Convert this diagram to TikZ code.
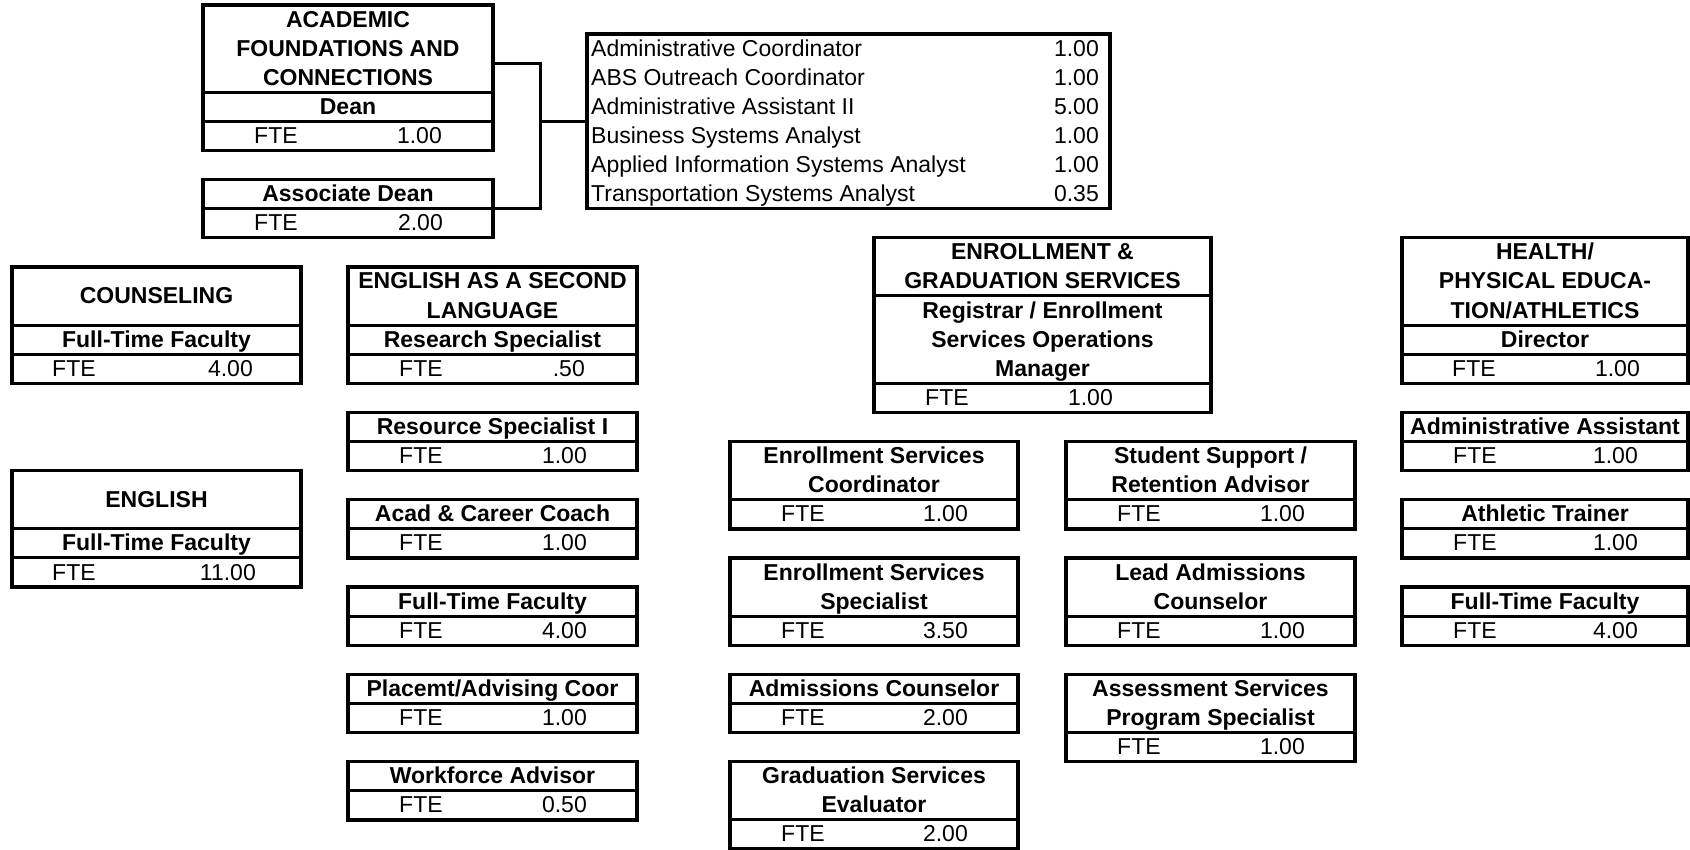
\documentclass[tikz,border=0pt]{standalone}
\usepackage{fontspec}
\setmainfont{Liberation Sans}
\tikzset{
  frame/.style={draw, line width=3.4pt, rectangle, inner sep=0pt, outer sep=0pt, anchor=north west},
  sepline/.style={line width=3pt},
  conn/.style={line width=3pt},
  bt/.style={font=\fontsize{23}{28}\selectfont\bfseries, inner sep=0pt, anchor=base},
  rt/.style={font=\fontsize{23}{28}\selectfont, inner sep=0pt},
}
% frame: name, left, right, top row, bottom row
\newcommand{\orgframe}[5]{%
  \pgfmathsetmacro\ofT{-(5+29.1*(#4))}%
  \pgfmathsetmacro\ofW{(#3)-(#2)}%
  \pgfmathsetmacro\ofH{29.1*((#5)-(#4))}%
  \node[frame, minimum width=\ofW pt, minimum height=\ofH pt] (#1) at (#2,\ofT) {};%
}
% separator: left, right, row line
\newcommand{\orgsep}[3]{%
  \pgfmathsetmacro\osY{-(5+29.1*(#3))}%
  \draw[sepline] (#1,\osY) -- (#2,\osY);%
}
% lines of text: name, centre x, first row, style, list
\newcommand{\orglines}[5]{%
  \foreach \olT [count=\olI from 0] in {#5} {%
    \pgfmathsetmacro\olY{-(5+29.1*((#3)+\olI+1))+7}%
    \node[#4] (#1-\olI) at (#2,\olY) {\olT};%
  }%
}
% FTE row: name, left, right, row, value, left offset, right offset
\newcommand{\orgfte}[7]{%
  \pgfmathsetmacro\ofY{-(5+29.1*((#4)+1))+7}%
  \pgfmathsetmacro\ofL{(#2)+(#6)}%
  \pgfmathsetmacro\ofR{(#3)-(#7)}%
  \node[rt, anchor=base west] (#1-fte) at (\ofL,\ofY) {FTE};%
  \node[rt, anchor=base east] (#1-val) at (\ofR,\ofY) {#5};%
}
% small box: name, left, right, top row, title rows, title lines, value
\newcommand{\smallbox}[7]{%
  \orgframe{#1}{#2}{#3}{#4}{#4+#5+1}%
  \orgsep{#2}{#3}{#4+#5}%
  \pgfmathsetmacro\sbC{((#2)+(#3))/2}%
  \orglines{#1-t}{\sbC}{#4}{bt}{#6}%
  \orgfte{#1}{#2}{#3}{#4+#5}{#7}{51}{50}%
}
\begin{document}
\begin{tikzpicture}[x=1pt,y=1pt]
\useasboundingbox (0,0) rectangle (1690,-850);

% ---- Dean
\orgframe{dean}{203}{493}{0}{5}
\orgsep{203}{493}{3}
\orgsep{203}{493}{4}
\orglines{dean-h}{348}{0}{bt}{ACADEMIC, FOUNDATIONS AND, CONNECTIONS}
\orglines{dean-t}{348}{3}{bt}{Dean}
\orgfte{dean}{203}{493}{4}{1.00}{51}{51}

\smallbox{assoc}{203}{493}{6}{1}{Associate Dean}{2.00}

% ---- staff list
\orgframe{list}{587}{1110}{1}{7}
\foreach \lname/\lval [count=\li from 1] in {Administrative Coordinator/1.00, ABS Outreach Coordinator/1.00, Administrative Assistant II/5.00, Business Systems Analyst/1.00, Applied Information Systems Analyst/1.00, Transportation Systems Analyst/0.35} {
  \pgfmathsetmacro\lY{-(5+29.1*(\li+1))+7}
  \node[rt, anchor=base west] (list-n\li) at (591,\lY) {\lname};
  \node[rt, anchor=base east] (list-v\li) at (1099,\lY) {\lval};
}

% ---- connectors
\coordinate (jtop) at (540,-63.2);
\coordinate (jmid) at (540,-121.4);
\coordinate (jbot) at (540,-208.7);
\draw[conn] (dean.east |- jtop) -- (jtop) -- (jbot) -- (assoc.east |- jbot);
\draw[conn] (jmid) -- (list.west |- jmid);

% ---- Counseling
\orgframe{couns}{12}{301}{9}{13}
\orgsep{12}{301}{11}
\orgsep{12}{301}{12}
\orglines{couns-h}{156.5}{9.5}{bt}{COUNSELING}
\orglines{couns-t}{156.5}{11}{bt}{Full-Time Faculty}
\orgfte{couns}{12}{301}{12}{4.00}{40}{48}

% ---- English
\orgframe{engl}{12}{301}{16}{20}
\orgsep{12}{301}{18}
\orgsep{12}{301}{19}
\orglines{engl-h}{156.5}{16.5}{bt}{ENGLISH}
\orglines{engl-t}{156.5}{18}{bt}{Full-Time Faculty}
\orgfte{engl}{12}{301}{19}{11.00}{40}{45}

% ---- ESL
\orgframe{esl}{348}{637}{9}{13}
\orgsep{348}{637}{11}
\orgsep{348}{637}{12}
\orglines{esl-h}{492.5}{9}{bt}{ENGLISH AS A SECOND, LANGUAGE}
\orglines{esl-t}{492.5}{11}{bt}{Research Specialist}
\orgfte{esl}{348}{637}{12}{.50}{51}{52}
\smallbox{resI}{348}{637}{14}{1}{Resource Specialist I}{1.00}
\smallbox{acad}{348}{637}{17}{1}{Acad \& Career Coach}{1.00}
\smallbox{eslft}{348}{637}{20}{1}{Full-Time Faculty}{4.00}
\smallbox{placemt}{348}{637}{23}{1}{Placemt/Advising Coor}{1.00}
\smallbox{workf}{348}{637}{26}{1}{Workforce Advisor}{0.50}

% ---- Enrollment & Graduation Services
\orgframe{enroll}{874}{1211}{8}{14}
\orgsep{874}{1211}{10}
\orgsep{874}{1211}{13}
\orglines{enroll-h}{1042.5}{8}{bt}{ENROLLMENT \&, GRADUATION SERVICES}
\orglines{enroll-t}{1042.5}{10}{bt}{Registrar / Enrollment, Services Operations, Manager}
\orgfte{enroll}{874}{1211}{13}{1.00}{51}{98}

\smallbox{esc}{730}{1018}{15}{2}{Enrollment Services, Coordinator}{1.00}
\smallbox{ess}{730}{1018}{19}{2}{Enrollment Services, Specialist}{3.50}
\smallbox{admc}{730}{1018}{23}{1}{Admissions Counselor}{2.00}
\smallbox{grad}{730}{1018}{26}{2}{Graduation Services, Evaluator}{2.00}

\smallbox{ssra}{1066}{1355}{15}{2}{Student Support /, Retention Advisor}{1.00}
\smallbox{lead}{1066}{1355}{19}{2}{Lead Admissions, Counselor}{1.00}
\smallbox{assess}{1066}{1355}{23}{2}{Assessment Services, Program Specialist}{1.00}

% ---- Health / PE / Athletics
\orgframe{hpe}{1402}{1688}{8}{13}
\orgsep{1402}{1688}{11}
\orgsep{1402}{1688}{12}
\orglines{hpe-h}{1545}{8}{bt}{HEALTH/, PHYSICAL EDUCA-, TION/ATHLETICS}
\orglines{hpe-t}{1545}{11}{bt}{Director}
\orgfte{hpe}{1402}{1688}{12}{1.00}{50}{48}
\smallbox{hpeaa}{1402}{1688}{14}{1}{Administrative Assistant}{1.00}
\smallbox{hpeat}{1402}{1688}{17}{1}{Athletic Trainer}{1.00}
\smallbox{hpeft}{1402}{1688}{20}{1}{Full-Time Faculty}{4.00}
\end{tikzpicture}
\end{document}
